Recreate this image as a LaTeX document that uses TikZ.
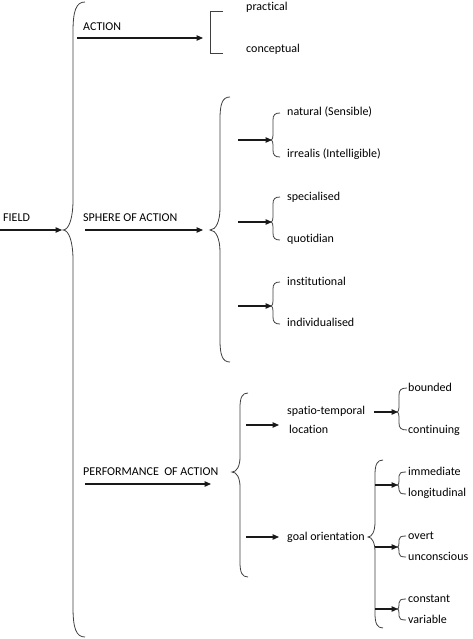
\documentclass[tikz,border=0pt]{standalone}
\usepackage{fontspec}
\setmainfont{Carlito}[Ligatures=NoCommon]
\usetikzlibrary{arrows.meta}
\tikzset{
  lbl/.style={anchor=west,inner sep=0pt,text height=8pt,text depth=2pt,font=\fontsize{12}{14}\selectfont,text=black},
  arr/.style={line width=1.2pt,draw=black!90,-{Triangle[length=6.5pt,width=5.5pt]}},
  brace/.style={line width=0.8pt,draw=black!75},
  sqbr/.style={line width=0.9pt,draw=black!75}
}
% #1 x of line, #2 y top, #3 y tip, #4 y bottom, #5 end width, #6 curl height, #7 tip depth
\newcommand{\cbr}[7]{%
\draw[brace] ({#1+#5},#2) .. controls ({#1+0.25*#5},#2) and (#1,{#2+0.3*#6}) .. (#1,{#2+#6})
 -- (#1,{#3-#6}) .. controls (#1,{#3-0.4*#6}) and ({#1-0.4*#7},#3) .. ({#1-#7},#3)
 .. controls ({#1-0.4*#7},#3) and (#1,{#3+0.4*#6}) .. (#1,{#3+#6})
 -- (#1,{#4-#6}) .. controls (#1,{#4-0.3*#6}) and ({#1+0.25*#5},#4) .. ({#1+#5},#4);}
\begin{document}
\begin{tikzpicture}[x=1pt,y=-1pt]
\useasboundingbox[fill=white] (0,0) rectangle (472,639);

% labels
\node[lbl] (field) at (3,218) {FIELD};
\node[lbl] (action) at (83,28) {ACTION};
\node[lbl] (practical) at (246,8) {practical};
\node[lbl] (conceptual) at (246,50) {conceptual};
\node[lbl] (sphere) at (83,218) {SPHERE OF ACTION};
\node[lbl] (natural) at (287,113) {natural (Sensible)};
\node[lbl] (irrealis) at (287,155) {irrealis (Intelligible)};
\node[lbl] (specialised) at (287,197) {specialised};
\node[lbl] (quotidian) at (287,239) {quotidian};
\node[lbl] (institutional) at (287,282) {institutional};
\node[lbl] (individualised) at (287,323) {individualised};
\node[lbl] (perf) at (83,472) {PERFORMANCE\ \ OF ACTION};
\node[lbl] (spatio) at (287,411) {spatio-temporal};
\node[lbl] (location) at (289,430) {location};
\node[lbl] (bounded) at (408,388) {bounded};
\node[lbl] (continuing) at (408,430) {continuing};
\node[lbl] (goal) at (287,537) {goal orientation};
\node[lbl] (immediate) at (408,472) {immediate};
\node[lbl] (longitudinal) at (408,493) {longitudinal};
\node[lbl] (overt) at (408,536) {overt};
\node[lbl] (unconscious) at (408,557) {unconscious};
\node[lbl] (constant) at (408,599) {constant};
\node[lbl] (variable) at (408,620) {variable};

% braces
\cbr{73}{2}{230}{637}{12}{30}{10}
\cbr{220}{97}{230}{362}{10}{22}{10}
\cbr{240}{393}{472}{577}{8}{15}{8}
\cbr{375}{460}{537}{628}{8}{15}{7}
\cbr{273}{113}{140}{157}{7}{7}{1.5}
\cbr{273}{197}{222}{240}{7}{7}{1.5}
\cbr{273}{282}{306}{324}{7}{7}{1.5}
\cbr{399}{388}{412}{430}{8}{7}{1.5}
\cbr{399}{472}{485}{494}{7}{4}{1.5}
\cbr{399}{536}{547}{557}{7}{4}{1.5}
\cbr{399}{599}{609}{620}{7}{4}{1.5}
\draw[sqbr] (223,11) -- (210,11) -- (210,53) -- (223,53);

% arrow end points
\coordinate (fieldS) at (0,230);   \coordinate (fieldE) at (62,230);
\coordinate (actS) at (77,38);     \coordinate (actE) at (203,38);
\coordinate (sphS) at (85,230);    \coordinate (sphE) at (203,230);
\coordinate (perS) at (85,484);    \coordinate (perE) at (211,484);
\coordinate (s1S) at (238,140);    \coordinate (s1E) at (272,140);
\coordinate (s2S) at (238,222);    \coordinate (s2E) at (272,222);
\coordinate (s3S) at (238,306);    \coordinate (s3E) at (272,306);
\coordinate (p1S) at (246,425);    \coordinate (p1E) at (279,425);
\coordinate (p2S) at (246,537);    \coordinate (p2E) at (279,537);
\coordinate (bS) at (374,412);     \coordinate (bE) at (398,412);
\coordinate (g1S) at (375,485);    \coordinate (g1E) at (398,485);
\coordinate (g2S) at (375,547);    \coordinate (g2E) at (398,547);
\coordinate (g3S) at (375,609);    \coordinate (g3E) at (398,609);

\foreach \a in {field,act,sph,per,s1,s2,s3,p1,p2,b,g1,g2,g3}
  \draw[arr] (\a S) -- (\a E);
\end{tikzpicture}
\end{document}
